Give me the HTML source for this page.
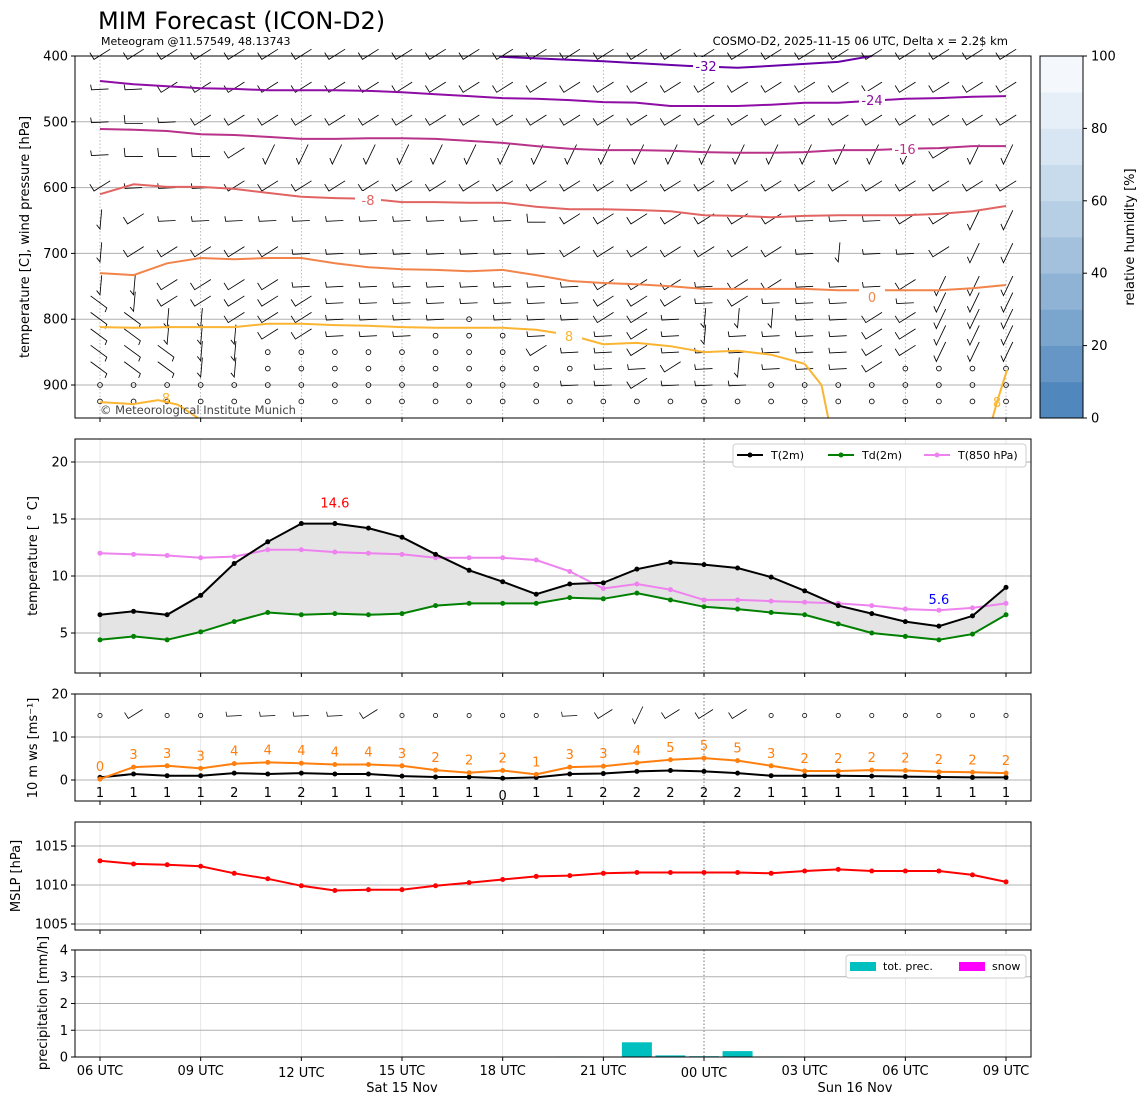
<!DOCTYPE html>
<html><head><meta charset="utf-8"><style>
html,body{margin:0;padding:0;background:#fff;}
svg{display:block;font-family:"DejaVu Sans","Liberation Sans",sans-serif;}
</style></head><body>
<svg id="chart" width="1148" height="1105" viewBox="0 0 1148 1105" xmlns="http://www.w3.org/2000/svg">
<text x="98" y="29" font-size="24">MIM Forecast (ICON-D2)</text>
<text x="101" y="45" font-size="11">Meteogram @11.57549, 48.13743</text>
<text x="1008" y="45" font-size="11.5" text-anchor="end">COSMO-D2, 2025-11-15 06 UTC, Delta x = 2.2$ km</text>
</svg>
<script>
// ---------- data ----------
const hours = ["06 UTC","09 UTC","12 UTC","15 UTC","18 UTC","21 UTC","00 UTC","03 UTC","06 UTC","09 UTC"];
const t2m = [6.6,6.9,6.6,8.3,11.1,13.0,14.6,14.6,14.2,13.4,11.9,10.5,9.5,8.4,9.3,9.4,10.6,11.2,11.0,10.7,9.9,8.7,7.4,6.7,6.0,5.6,6.5,9.0];
const td2m = [4.4,4.7,4.4,5.1,6.0,6.8,6.6,6.7,6.6,6.7,7.4,7.6,7.6,7.6,8.1,8.0,8.5,7.9,7.3,7.1,6.8,6.6,5.8,5.0,4.7,4.4,4.9,6.6];
const t850 = [12.0,11.9,11.8,11.6,11.7,12.3,12.3,12.1,12.0,11.9,11.6,11.6,11.6,11.4,10.4,8.9,9.3,8.8,7.9,7.9,7.8,7.7,7.6,7.4,7.1,7.0,7.2,7.6];
const wsMean = [0.6,1.4,1.0,1.0,1.6,1.4,1.6,1.4,1.4,0.9,0.7,0.7,0.4,0.6,1.4,1.5,2.0,2.2,2.0,1.6,1.0,1.0,1.0,0.9,0.8,0.7,0.6,0.6];
const wsGust = [0.2,3.0,3.3,2.7,3.8,4.1,3.9,3.6,3.6,3.3,2.3,1.7,2.2,1.3,3.0,3.2,4.0,4.7,5.1,4.5,3.3,2.1,2.1,2.3,2.2,1.9,1.8,1.6];
const gustLabels = [0,3,3,3,4,4,4,4,4,3,2,2,2,1,3,3,4,5,5,5,3,2,2,2,2,2,2,2];
const meanLabels = [1,1,1,1,2,1,2,1,1,1,1,1,0,1,1,2,2,2,2,2,1,1,1,1,1,1,1,1];
const mslp = [1013.1,1012.7,1012.6,1012.4,1011.5,1010.8,1009.9,1009.3,1009.4,1009.4,1009.9,1010.3,1010.7,1011.1,1011.2,1011.5,1011.6,1011.6,1011.6,1011.6,1011.5,1011.8,1012.0,1011.8,1011.8,1011.8,1011.3,1010.4];
const precip = [0,0,0,0,0,0,0,0,0,0,0,0,0,0,0.02,0,0.55,0.06,0.03,0.22,0.02,0,0,0,0,0,0,0];
const isoM24 = [438,443,446,449,450,452,452,452,453,455,458,461,464,465,467,470,471,476,476,476,474,471,471,468,465,464,462,461];
const isoM16 = [511,512,514,519,520,523,526,526,525,525,526,529,532,537,541,543,543,544,546,547,547,546,543,543,541,540,537,537];
const isoM8 = [610,595,599,599,602,608,614,616,617,622,622,623,623,629,633,633,634,636,642,643,645,643,642,642,642,640,636,628];
const iso0 = [730,733,715,707,709,707,707,715,721,724,725,727,725,733,742,745,747,750,754,754,754,754,756,756,756,756,753,748];
const iso8 = [812,813,812,812,812,807,807,809,810,812,813,813,813,816,824,838,836,841,850,848,854,868];
const iso8TailT = [21,21.5,21.7];
const iso8TailP = [868,900,950];
const iso8RightT = [26.6,26.73,27.03];
const iso8RightP = [950,926,877];
const iso8LeftT = [0,0.98,1.73,2.32,2.92];
const iso8LeftP = [926,929,923,930,950];
const isoM32T = [11.9,15,17.5,19,20,22,23];
const isoM32P = [401,408,415,418,415,409,400];
const levels = [400,450,500,550,600,650,700,750,775,800,825,850,875,900,925];
const barbRows = [
 "aaaaaaaaaaaaaaaaaaaaaaaaaaaa",
 "hhaaaaaaaaaaaaaaaaaaaaaaaaaa",
 "hLhaaaaaaaaaaaaaaaaaaaaaaaaa",
 "hLLLassssssssssssssssssssass",
 "ahhhaaaaaaaaaaaaaaaaaaaaaaaa",
 "vahhhhhhhhhhhLaaaaaaahhhaass",
 "vaaaaahhhhhhhhaaaaaaahvhhass",
 "vvaaaahhhhhhhhhaaahaahhhasss",
 "nvaaaaahhhhhhhhaaahahhhhhsss",
 "nnvvaaahhhhchhhaahvvvhhaasss",
 "nnvvvaahhhccchhhahvhhhhaasss",
 "nnnvvccccccccahhahhhhhhaasss",
 "nnnvvcccccccccchhahvhhhacccc",
 "cccccccccccccchhahhhcccccccc",
 "cccccccccccccccccccccccccccc"
];
const surfBarbs = "cacchhhhaccccchasaaacccccccc";
const rhBands = ["#5088bd","#6596c6","#7aa5cd","#8fb3d5","#a3c1dd","#b6cfe5","#c8dbec","#d8e5f2","#e6eef7","#f4f8fc"];

// ---------- helpers ----------
const svg = document.getElementById('chart');
const NS = "http://www.w3.org/2000/svg";
function mk(tag, attrs, parent){ const e=document.createElementNS(NS,tag); for(const k in attrs) e.setAttribute(k,attrs[k]); (parent||svg).appendChild(e); return e; }
const X = i => 100 + i*33.556;
const XL = 75, XR = 1031;
const yTop = p => 56 + (p-400)*0.658;
const yTemp = v => 690 - v*11.4;
const yWind = v => 780 - v*4.3;
const yMslp = v => 885 - (v-1010)*7.8;
const yPrec = v => 1057 - v*26.75;
const panels = [[56,418],[439,673],[694,801],[822,930],[950,1057]];
const pts = (arr, yf) => arr.map((v,i)=>X(i).toFixed(1)+","+yf(v).toFixed(1)).join(" ");

// grids
panels.forEach((p,k)=>{
  for(let h=0;h<10;h++){
    const x=X(h*3);
    const g=mk('line',{x1:x,x2:x,y1:p[0],y2:p[1],stroke:h===6?'#555':(k===0?'#aaa':'#e2e2e2'),'stroke-width':0.8,'stroke-dasharray':(k===0||h===6)?'1.5,2':'none'});
    
    
    const t=mk('line',{x1:x,x2:x,y1:p[1],y2:p[1]+4,stroke:'#000','stroke-width':1});
    
    
  }
});
function yAxis(p, ticks, yf, grid){
  ticks.forEach(v=>{
    const y=yf(v);
    if(grid){ const g=mk('line',{x1:XL,x2:XR,y1:y,y2:y,stroke:'#b0b0b0','stroke-width':1});
        }
    mk('line',{x1:XL-4,x2:XL,y1:y,y2:y,stroke:'#000'});
    const t=mk('text',{x:XL-7,y:y+4.5,'font-size':13,'text-anchor':'end'}); t.textContent=v;
     
  });
}
function yTitle(txt, cx, cy, name){
  const t=mk('text',{x:cx,y:cy,'font-size':13,'text-anchor':'middle',transform:`rotate(-90 ${cx} ${cy})`}); t.textContent=txt;
   
}

// ---------- top panel ----------
yAxis(panels[0],[500,600,700,800,900],yTop,true);
{ const t=mk('text',{x:XL-7,y:yTop(400)+4.5,'font-size':13,'text-anchor':'end'}); t.textContent='400';
  mk('line',{x1:XL-4,x2:XL,y1:56,y2:56,stroke:'#000'}); }
yTitle("temperature [C], wind pressure [hPa]",29,237,'top-y-axis-title');

function barb(x,y,c,s){
  const g=mk('g',{transform:`translate(${x},${y}) scale(${s})`,stroke:'#000','stroke-width':1,fill:'none'});
   
  let d;
  if(c==='c'){ mk('circle',{cx:0,cy:0,r:2.8},g); return; }
  if(c==='a') d="M-12,-4 L-7,4 L12,-8";
  else if(c==='h') d="M-11,-5 L-10,1 L10,0";
  else if(c==='L') d="M-11,-8 L-10,2 L11,2";
  else if(c==='v') d="M2,-13 L0,10 L-4,5";
  else if(c==='n') d="M-11,-8 L8,6 L6,11";
  else if(c==='s') d="M-6,4 L-3,11 L8,-12";
  mk('path',{d:d},g);
}
levels.forEach((p,r)=>{ for(let i=0;i<28;i++) barb(X(i),yTop(p),barbRows[r][i],0.85); });

function isoLine(ts, ps, color, name){
  const l=mk('polyline',{points:ts.map((t,i)=>X(t).toFixed(1)+","+Math.min(418,yTop(ps[i])).toFixed(1)).join(" "),fill:'none',stroke:color,'stroke-width':2});
   
}
const idx = a => a.map((_,i)=>i);
isoLine(isoM32T,isoM32P,'#6a00a8','isotherm-minus32');
isoLine(idx(isoM24),isoM24,'#8f0da4','isotherm-minus24');
isoLine(idx(isoM16),isoM16,'#b83289','isotherm-minus16');
isoLine(idx(isoM8),isoM8,'#e16462','isotherm-minus8');
isoLine(idx(iso0),iso0,'#f2844b','isotherm-0');
isoLine(idx(iso8),iso8,'#fbb532','isotherm-8');
isoLine(iso8TailT,iso8TailP,'#fbb532','isotherm-8-tail');
isoLine(iso8RightT,iso8RightP,'#fbb532','isotherm-8-right');
isoLine(iso8LeftT,iso8LeftP,'#fbb532','isotherm-8-left');
function isoLabel(x,y,txt,color){
  mk('rect',{x:x-13,y:y-9,width:26,height:16,fill:'#fff'});
  const t=mk('text',{x:x,y:y+5,'font-size':13,fill:color,'text-anchor':'middle'}); t.textContent=txt;
   
}
isoLabel(706,66,'-32','#6a00a8'); isoLabel(872,100,'-24','#8f0da4'); isoLabel(905,149,'-16','#b83289');
isoLabel(368,200,'-8','#e16462'); isoLabel(872,297,'0','#f2844b'); isoLabel(569,336,'8','#fbb532');
{ const t=mk('text',{x:166,y:403,'font-size':13,fill:'#fbb532','text-anchor':'middle'}); t.textContent='8';
  const t2=mk('text',{x:997,y:407,'font-size':13,fill:'#fbb532','text-anchor':'middle'}); t2.textContent='8'; }
{ const t=mk('text',{x:100,y:414,'font-size':11.5,fill:'#444'}); t.textContent='© Meteorological Institute Munich';
    }

// colorbar
rhBands.forEach((c,k)=>{ const r=mk('rect',{x:1040,y:418-(k+1)*36.2,width:43,height:36.6,fill:c});
    });
mk('rect',{x:1040,y:56,width:43,height:362,fill:'none',stroke:'#000','stroke-width':1});
[0,20,40,60,80,100].forEach(v=>{ const y=418-v*3.62; mk('line',{x1:1083,x2:1087,y1:y,y2:y,stroke:'#000'});
  const t=mk('text',{x:1091,y:y+4.5,'font-size':13}); t.textContent=v;
    });
{ const t=mk('text',{x:1134,y:237,'font-size':13,'text-anchor':'middle',transform:'rotate(-90 1134 237)'}); t.textContent='relative humidity [%]';
    }

// ---------- temperature panel ----------
yAxis(panels[1],[5,10,15,20],yTemp,true);
yTitle("temperature [ ° C]",37,556,'temp-y-axis-title');
{ const poly = t2m.map((v,i)=>X(i).toFixed(1)+","+yTemp(v).toFixed(1)).concat(td2m.map((v,i)=>X(i).toFixed(1)+","+yTemp(v).toFixed(1)).reverse()).join(" ");
  const f=mk('polygon',{points:poly,fill:'#e4e4e4',stroke:'#aaa','stroke-width':0.5});
    }
function series(arr, yf, color, name, r){
  const l=mk('polyline',{points:pts(arr,yf),fill:'none',stroke:color,'stroke-width':2});
   
  arr.forEach((v,i)=>{ const c=mk('circle',{cx:X(i),cy:yf(v),r:r||2.5,fill:color});
      });
}
series(t850,yTemp,'#ee82ee','t850-line');
series(td2m,yTemp,'#008000','td2m-line');
series(t2m,yTemp,'#000','t2m-line');
{ const mx=Math.max(...t2m), im=t2m.lastIndexOf(mx); const t=mk('text',{x:X(im),y:yTemp(mx)-16,'font-size':13,fill:'red','text-anchor':'middle'}); t.textContent=mx.toFixed(1);
   
  const mn=Math.min(...t2m), jn=t2m.lastIndexOf(mn); const t2=mk('text',{x:X(jn),y:yTemp(mn)-22,'font-size':13,fill:'blue','text-anchor':'middle'}); t2.textContent=mn.toFixed(1);
    }
{ const g=mk('g',{});  
  mk('rect',{x:733,y:444,width:293,height:23,rx:3,fill:'#fff',stroke:'#ccc'},g);
  [['T(2m)','#000',737],['Td(2m)','#008000',828],['T(850 hPa)','#ee82ee',924]].forEach(e=>{
    mk('line',{x1:e[2],x2:e[2]+26,y1:455,y2:455,stroke:e[1],'stroke-width':2},g);
    mk('circle',{cx:e[2]+13,cy:455,r:2.5,fill:e[1]},g);
    const t=mk('text',{x:e[2]+34,y:459,'font-size':11},g); t.textContent=e[0]; });
}

// ---------- wind panel ----------
yAxis(panels[2],[0,10,20],yWind,true);
yTitle("10 m ws [ms⁻¹]",37,748,'wind-y-axis-title');
for(let i=0;i<28;i++) barb(X(i),yWind(15),surfBarbs[i],0.75);
series(wsMean,yWind,'#000','mean-wind-line');
series(wsGust,yWind,'#ff7f0e','gust-line');
gustLabels.forEach((v,i)=>{ const t=mk('text',{x:X(i),y:yWind(wsGust[i])-8,'font-size':13,fill:'#ff7f0e','text-anchor':'middle'}); t.textContent=v;
    });
meanLabels.forEach((v,i)=>{ const t=mk('text',{x:X(i),y:797+(v===0?3:0),'font-size':13,fill:'#000','text-anchor':'middle'}); t.textContent=v;
    });

// ---------- MSLP panel ----------
yAxis(panels[3],[1005,1010,1015],yMslp,true);
yTitle("MSLP [hPa]",20,876,'mslp-y-axis-title');
series(mslp,yMslp,'#ff0000','mslp-line');

// ---------- precip panel ----------
yAxis(panels[4],[0,1,2,3,4],yPrec,true);
yTitle("precipitation [mm/h]",47,1003,'precip-y-axis-title');
precip.forEach((v,i)=>{ if(v<=0) return; const y=yPrec(v);
  const b=mk('rect',{x:X(i)-15,y:y,width:30,height:1057-y,fill:'#00bfbf'});
    });
{ const g=mk('g',{});  
  mk('rect',{x:846,y:955,width:180,height:23,rx:3,fill:'#fff',stroke:'#ccc'},g);
  mk('rect',{x:850,y:962,width:26,height:9,fill:'#00bfbf'},g);
  let t=mk('text',{x:883,y:970,'font-size':11},g); t.textContent='tot. prec.';
  mk('rect',{x:959,y:962,width:26,height:9,fill:'#ff00ff'},g);
  t=mk('text',{x:992,y:970,'font-size':11},g); t.textContent='snow'; }

// frames
panels.forEach(p=>{ const r=mk('rect',{x:XL,y:p[0],width:XR-XL,height:p[1]-p[0],fill:'none',stroke:'#000','stroke-width':1});
    });

// x labels
hours.forEach((h,k)=>{ const t=mk('text',{x:X(k*3),y:(k===2||k===6)?1077:1075,'font-size':13,'text-anchor':'middle'}); t.textContent=h;
    });
{ let t=mk('text',{x:402,y:1092,'font-size':13,'text-anchor':'middle'}); t.textContent='Sat 15 Nov';
   
  t=mk('text',{x:855,y:1092,'font-size':13,'text-anchor':'middle'}); t.textContent='Sun 16 Nov';
    }
</script>
</body></html>
